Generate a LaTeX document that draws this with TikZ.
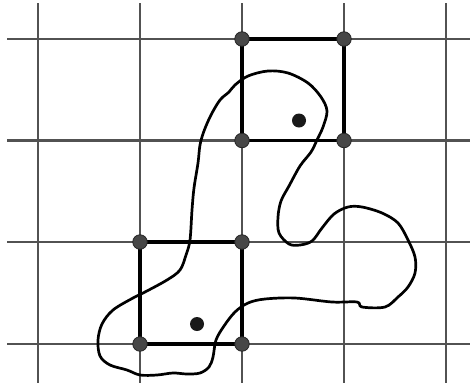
\documentclass[tikz,border=0pt]{standalone}
\begin{document}
\begin{tikzpicture}[x=1pt,y=-1pt,
  gridline/.style={line width=2.1pt,draw=black!68},
  sqedge/.style={line width=3.6pt,draw=black},
  corner/.style={circle,fill=black!72,draw=black!85,line width=0.8pt,minimum size=14.5pt,inner sep=0pt},
  inner/.style={circle,fill=black!90,minimum size=14pt,inner sep=0pt},
  blob/.style={line width=2.7pt,draw=black,line join=round}]
\useasboundingbox (0,0) rectangle (470,383);
% grid
\foreach \x in {38,140,242,344,446} \draw[gridline] (\x,3) -- (\x,383);
\foreach \y in {39,140.5,242,344} \draw[gridline] (7,\y) -- (470,\y);
% squares
\coordinate (a1) at (242,39); \coordinate (a2) at (344,39);
\coordinate (a3) at (344,140.5); \coordinate (a4) at (242,140.5);
\coordinate (b1) at (140,242); \coordinate (b2) at (242,242);
\coordinate (b3) at (242,344); \coordinate (b4) at (140,344);
\draw[sqedge] (a1) -- (a2) -- (a3) -- (a4) -- cycle;
\draw[sqedge] (b1) -- (b2) -- (b3) -- (b4) -- cycle;
% closed curve
\draw[blob] plot[smooth cycle,tension=0.55] coordinates {
(235,85) (248,76) (268,71) (288,73) (308,83) (321,97) (327,111) (323,127) (317,140)
(311,152) (300,166) (289,186) (281,201) (278,217) (279,233) (289,244) (300,245) (312,241)
(322,228) (334,214) (348,207) (362,207) (382,213) (398,223) (408,240) (415,257) (415,273)
(408,287) (398,297) (385,307) (362,307) (357,302) (332,302) (295,298) (265,299) (248,303)
(235,312) (224,326) (216,340) (213,357) (209,367) (200,373) (187,374) (173,373) (157,375)
(140,375) (127,370) (110,365) (100,356) (98,340) (102,324) (113,310) (133,298) (145,292)
(167,280) (180,270) (186,255) (190,240) (192,210) (194,188) (198,163) (200,145) (204,131)
(211,115) (220,100) (229,92)};
% dots
\foreach \n in {a1,a2,a3,a4,b1,b2,b3,b4} \node[corner] at (\n) {};
\node[inner] (p) at (299,120.5) {};
\node[inner] (q) at (197,324) {};
\end{tikzpicture}
\end{document}
